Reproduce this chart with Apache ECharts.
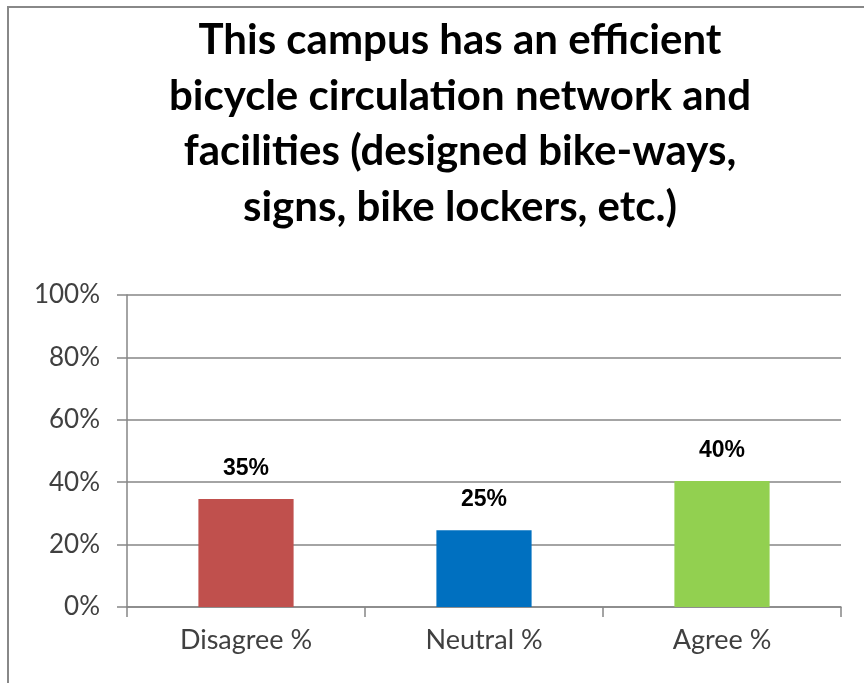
<!DOCTYPE html>
<html>
<head>
<meta charset="utf-8">
<script src="https://cdn.jsdelivr.net/npm/echarts@6/dist/echarts.min.js"></script>
<style>
html,body{margin:0;padding:0;background:#fff;}
#chart{width:864px;height:683px;}
</style>
</head>
<body>
<div id="chart"></div>
<script>
const titleLines = [
  'This campus has an efficient',
  'bicycle circulation network and',
  'facilities (designed bike-ways,',
  'signs, bike lockers, etc.)'
];
const categories = ['Disagree %', 'Neutral %', 'Agree %'];
const values = [34.6, 24.6, 40.4];
const barColors = ['#C0504D', '#0070C0', '#92D050'];
const yTicks = [0, 20, 40, 60, 80, 100];

const chart = echarts.init(document.getElementById('chart'), null, {renderer: 'canvas'});
chart.setOption({
  backgroundColor: '#fff',
  animation: false,
  title: {
    text: titleLines.join('\n'),
    left: 455,
    textAlign: 'center',
    top: 8,
    textStyle: {
      fontFamily: 'Lato',
      fontWeight: 'bold',
      fontSize: 42,
      lineHeight: 55.5,
      color: '#000'
    }
  },
  graphic: [
    {type: 'line', shape: {x1: 8, y1: 7, x2: 864, y2: 7}, style: {stroke: '#888', lineWidth: 2}},
    {type: 'line', shape: {x1: 8, y1: 6, x2: 8, y2: 683}, style: {stroke: '#888', lineWidth: 2}}
  ],
  grid: {left: 127, right: 23, top: 295, bottom: 76},
  xAxis: {
    type: 'category',
    data: categories,
    axisLine: {show: true, lineStyle: {color: '#868686', width: 1.5}},
    axisTick: {show: true, length: 10, lineStyle: {color: '#868686', width: 1.5}},
    axisLabel: {
      fontFamily: 'Lato',
      fontSize: 27,
      color: '#404040',
      margin: 20
    }
  },
  yAxis: {
    type: 'value',
    min: yTicks[0],
    max: yTicks[yTicks.length - 1],
    interval: 20,
    axisLine: {show: true, lineStyle: {color: '#868686', width: 1.5}},
    axisTick: {show: true, length: 10, lineStyle: {color: '#868686', width: 1.5}},
    splitLine: {show: true, lineStyle: {color: '#868686', width: 1.5}},
    axisLabel: {
      formatter: '{value}%',
      fontFamily: 'Lato',
      fontSize: 26,
      color: '#404040',
      margin: 27
    }
  },
  series: [{
    type: 'bar',
    barWidth: '40%',
    data: values.map((v, i) => ({value: v, itemStyle: {color: barColors[i]}})),
    label: {
      show: true,
      position: 'top',
      distance: 19,
      formatter: p => Math.round(p.value) + '%',
      fontFamily: 'Liberation Sans',
      fontWeight: 'bold',
      fontSize: 23,
      color: '#000'
    }
  }]
});
</script>
</body>
</html>
